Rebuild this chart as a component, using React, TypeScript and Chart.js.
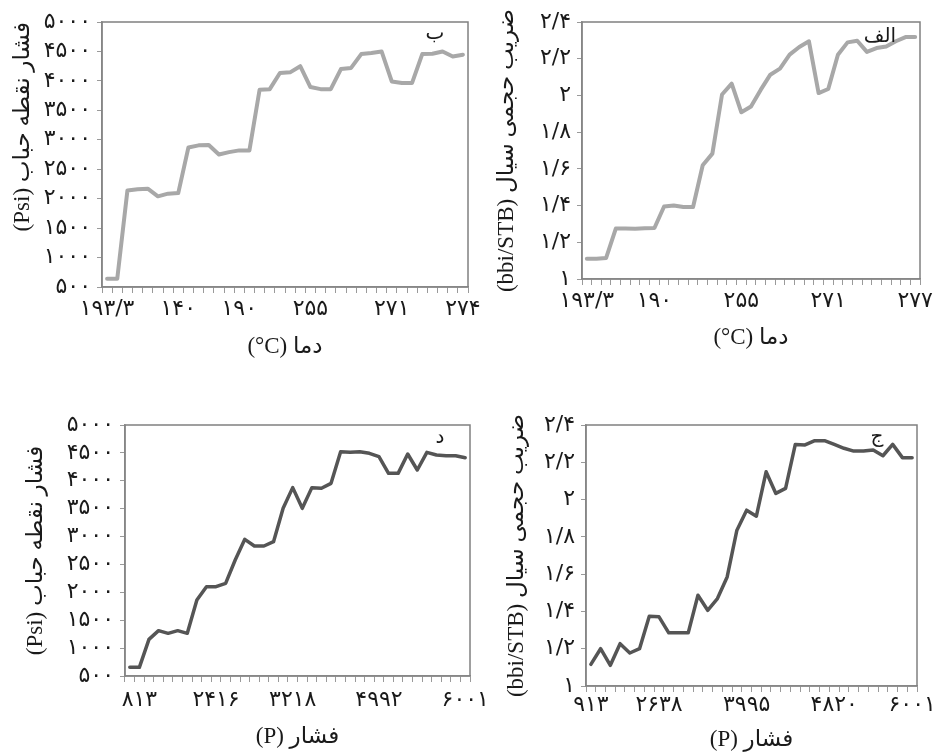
import React, { useEffect, useRef } from 'react';
import { Chart, registerables } from 'chart.js';

Chart.register(...registerables);

const PAGE_W = 948;
const PAGE_H = 756;

// ---------- data ----------
// Panel ب : bubble-point pressure vs temperature
const valuesB = [640, 640, 2140, 2160, 2170, 2040, 2085, 2095, 2870, 2905, 2910, 2750, 2790, 2820, 2820, 3850, 3860, 4135, 4145, 4250, 3895, 3860, 3860, 4200, 4220, 4455, 4475, 4500, 3990, 3965, 3965, 4455, 4460, 4500, 4415, 4445];
const xLabelsB = ['۱۹۳/۳', '۱۴۰', '۱۹۰', '۲۵۵', '۲۷۱', '۲۷۴'];
const xLabelIdxB = [0, 7, 13, 20, 28, 35];

// Panel الف : formation volume factor vs temperature
const valuesA = [1.11, 1.11, 1.115, 1.275, 1.275, 1.274, 1.276, 1.278, 1.395, 1.4, 1.392, 1.392, 1.62, 1.683, 2.005, 2.064, 1.908, 1.94, 2.03, 2.113, 2.146, 2.222, 2.264, 2.295, 2.013, 2.035, 2.222, 2.289, 2.298, 2.237, 2.258, 2.267, 2.295, 2.318, 2.318];
const xLabelsA = ['۱۹۳/۳', '۱۹۰', '۲۵۵', '۲۷۱', '۲۷۷'];
const xLabelIdxA = [0, 7, 16, 25, 34];

// Panel د : bubble-point pressure vs pressure
const valuesD = [655, 655, 1157, 1313, 1265, 1313, 1265, 1862, 2101, 2101, 2161, 2580, 2950, 2831, 2831, 2908, 3506, 3877, 3506, 3877, 3865, 3954, 4522, 4510, 4522, 4492, 4432, 4133, 4133, 4480, 4193, 4510, 4462, 4450, 4450, 4414];
const xLabelsD = ['۸۱۳', '۲۴۱۶', '۳۲۱۸', '۴۹۹۲', '۶۰۰۱'];
const xLabelIdxD = [1, 9, 17, 26, 35];

// Panel ج : formation volume factor vs pressure
const valuesJ = [1.116, 1.2, 1.111, 1.227, 1.177, 1.2, 1.374, 1.371, 1.285, 1.285, 1.285, 1.487, 1.406, 1.469, 1.585, 1.836, 1.943, 1.911, 2.149, 2.033, 2.06, 2.296, 2.293, 2.316, 2.316, 2.296, 2.275, 2.26, 2.26, 2.266, 2.235, 2.296, 2.225, 2.225];
const xLabelsJ = ['۹۱۳', '۲۶۳۸', '۳۹۹۵', '۴۸۲۰', '۶۰۰۱'];
const xLabelIdxJ = [0, 7, 16, 25, 33];

// y tick labels
const yTicksPsi = ['۵۰۰', '۱۰۰۰', '۱۵۰۰', '۲۰۰۰', '۲۵۰۰', '۳۰۰۰', '۳۵۰۰', '۴۰۰۰', '۴۵۰۰', '۵۰۰۰'];
const yTicksFvf = ['۱', '۱/۲', '۱/۴', '۱/۶', '۱/۸', '۲', '۲/۲', '۲/۴'];

const yTitlePsi = '(Psi) فشار نقطه حباب';
const yTitleFvf = '(bbi/STB) ضریب حجمی سیال';
const xTitleTemp = '(°C) دما';
const xTitlePres = '(P) فشار';

// ---------- styling / layout ----------
const TICK_FONT = { family: "'DejaVu Sans', sans-serif", size: 22, lineHeight: 1.2 };
const TITLE_FONT = { family: "'Liberation Serif', 'DejaVu Sans', serif", size: 23, lineHeight: 1.2 };
const AXIS_COLOR = '#9a9a9a';
const FRAME_COLOR = '#808080';
const TEXT_COLOR = '#1a1a1a';

type Panel = {
  values: number[];
  xLabels: string[];
  xLabelIdx: number[];
  yLabels: string[];
  yMin: number;
  yMax: number;
  yStep: number;
  yTitle: string;
  xTitle: string;
  letter: string;
  color: string;
  lineWidth: number;
  area: { l: number; r: number; t: number; b: number };
  yTitleX: number;
  xTitleY: number;
  xTickPad: number;
  yTitleAlign: 'center' | 'end' | 'start';
  letterDx: number;
  letterDy: number;
};

const panels: Panel[] = [
  {
    values: valuesB, xLabels: xLabelsB, xLabelIdx: xLabelIdxB, yLabels: yTicksPsi,
    yMin: 500, yMax: 5000, yStep: 500, yTitle: yTitlePsi, xTitle: xTitleTemp, letter: 'ب',
    color: '#a8a8a8', lineWidth: 4,
    area: { l: 102, r: 468, t: 22, b: 287 }, yTitleX: 23, xTitleY: 347, xTickPad: 3,
    yTitleAlign: 'end', letterDx: 33, letterDy: 12,
  },
  {
    values: valuesA, xLabels: xLabelsA, xLabelIdx: xLabelIdxA, yLabels: yTicksFvf,
    yMin: 1, yMax: 2.4, yStep: 0.2, yTitle: yTitleFvf, xTitle: xTitleTemp, letter: 'الف',
    color: '#a8a8a8', lineWidth: 4,
    area: { l: 582, r: 920, t: 22, b: 279 }, yTitleX: 507, xTitleY: 338, xTickPad: 3,
    yTitleAlign: 'center', letterDx: 40, letterDy: 15,
  },
  {
    values: valuesD, xLabels: xLabelsD, xLabelIdx: xLabelIdxD, yLabels: yTicksPsi,
    yMin: 500, yMax: 5000, yStep: 500, yTitle: yTitlePsi, xTitle: xTitlePres, letter: 'د',
    color: '#555555', lineWidth: 3.5,
    area: { l: 125, r: 470, t: 425, b: 676 }, yTitleX: 36, xTitleY: 737, xTickPad: 5,
    yTitleAlign: 'center', letterDx: 30, letterDy: 13,
  },
  {
    values: valuesJ, xLabels: xLabelsJ, xLabelIdx: xLabelIdxJ, yLabels: yTicksFvf,
    yMin: 1, yMax: 2.4, yStep: 0.2, yTitle: yTitleFvf, xTitle: xTitlePres, letter: 'ج',
    color: '#555555', lineWidth: 3.5,
    area: { l: 586, r: 917, t: 425, b: 686 }, yTitleX: 517, xTitleY: 740, xTickPad: 0,
    yTitleAlign: 'center', letterDx: 40, letterDy: 12,
  },
];

const frameLetterPlugin = {
  id: 'frameLetter',
  afterDraw(chart: any, _args: any, opts: any) {
    const { ctx, chartArea: a } = chart;
    ctx.save();
    ctx.strokeStyle = FRAME_COLOR;
    ctx.lineWidth = 1.5;
    ctx.strokeRect(a.left, a.top, a.right - a.left, a.bottom - a.top);
    ctx.fillStyle = TEXT_COLOR;
    ctx.font = "20px 'DejaVu Sans', sans-serif";
    ctx.textAlign = 'center';
    ctx.textBaseline = 'middle';
    ctx.fillText(opts.letter, a.right - opts.dx, a.top + opts.dy);
    ctx.restore();
  },
};

function PanelChart({ p }: { p: Panel }) {
  const ref = useRef<HTMLCanvasElement | null>(null);

  useEffect(() => {
    if (!ref.current) return;
    const lh = TITLE_FONT.size * TITLE_FONT.lineHeight;
    const padLeft = p.yTitleX - lh / 2;
    const yW = p.area.l - padLeft;
    const xH = p.xTitleY + lh / 2 - p.area.b;
    const padBottom = PAGE_H - p.area.b - xH;
    const labels = p.values.map((_, i) => {
      const j = p.xLabelIdx.indexOf(i);
      return j >= 0 ? p.xLabels[j] : '';
    });

    const chart = new Chart(ref.current, {
      type: 'line',
      data: {
        labels,
        datasets: [
          {
            data: p.values,
            borderColor: p.color,
            borderWidth: p.lineWidth,
            pointRadius: 0,
            tension: 0,
            fill: false,
            borderJoinStyle: 'round',
            borderCapStyle: 'round',
          },
        ],
      },
      options: {
        responsive: false,
        animation: false,
        events: [],
        layout: {
          padding: { left: padLeft, top: p.area.t, right: PAGE_W - p.area.r, bottom: padBottom },
        },
        plugins: {
          legend: { display: false },
          tooltip: { enabled: false },
          frameLetter: { letter: p.letter, dx: p.letterDx, dy: p.letterDy },
        } as any,
        scales: {
          x: {
            type: 'category',
            offset: true,
            grid: { display: true, drawOnChartArea: false, drawTicks: true, tickLength: 6, offset: true, color: AXIS_COLOR, lineWidth: 1 },
            border: { display: true, color: AXIS_COLOR, width: 1.5 },
            ticks: { autoSkip: false, maxRotation: 0, minRotation: 0, padding: p.xTickPad, font: TICK_FONT, color: TEXT_COLOR },
            title: { display: true, text: p.xTitle, font: TITLE_FONT, color: TEXT_COLOR, padding: 0 },
            afterFit: (s: any) => { s.height = xH; },
          },
          y: {
            type: 'linear',
            min: p.yMin,
            max: p.yMax,
            grid: { display: true, drawOnChartArea: false, drawTicks: true, tickLength: 5, color: AXIS_COLOR, lineWidth: 1 },
            border: { display: true, color: AXIS_COLOR, width: 1.5 },
            ticks: {
              stepSize: p.yStep,
              autoSkip: false,
              padding: 6,
              font: TICK_FONT,
              color: TEXT_COLOR,
              callback: (_v: any, i: number) => p.yLabels[i] ?? '',
            },
            title: { display: true, text: p.yTitle, font: TITLE_FONT, color: TEXT_COLOR, padding: 0, align: p.yTitleAlign },
            afterFit: (s: any) => { s.width = yW; },
          },
        },
      },
      plugins: [frameLetterPlugin],
    } as any);

    return () => chart.destroy();
  }, [p]);

  return (
    <canvas
      ref={ref}
      width={PAGE_W}
      height={PAGE_H}
      style={{ position: 'absolute', left: 0, top: 0, width: PAGE_W, height: PAGE_H }}
    />
  );
}

export default function App() {
  return (
    <div style={{ position: 'absolute', left: 0, top: 0, width: PAGE_W, height: PAGE_H, background: '#ffffff', overflow: 'hidden' }}>
      {panels.map((p, i) => (
        <PanelChart key={i} p={p} />
      ))}
    </div>
  );
}
